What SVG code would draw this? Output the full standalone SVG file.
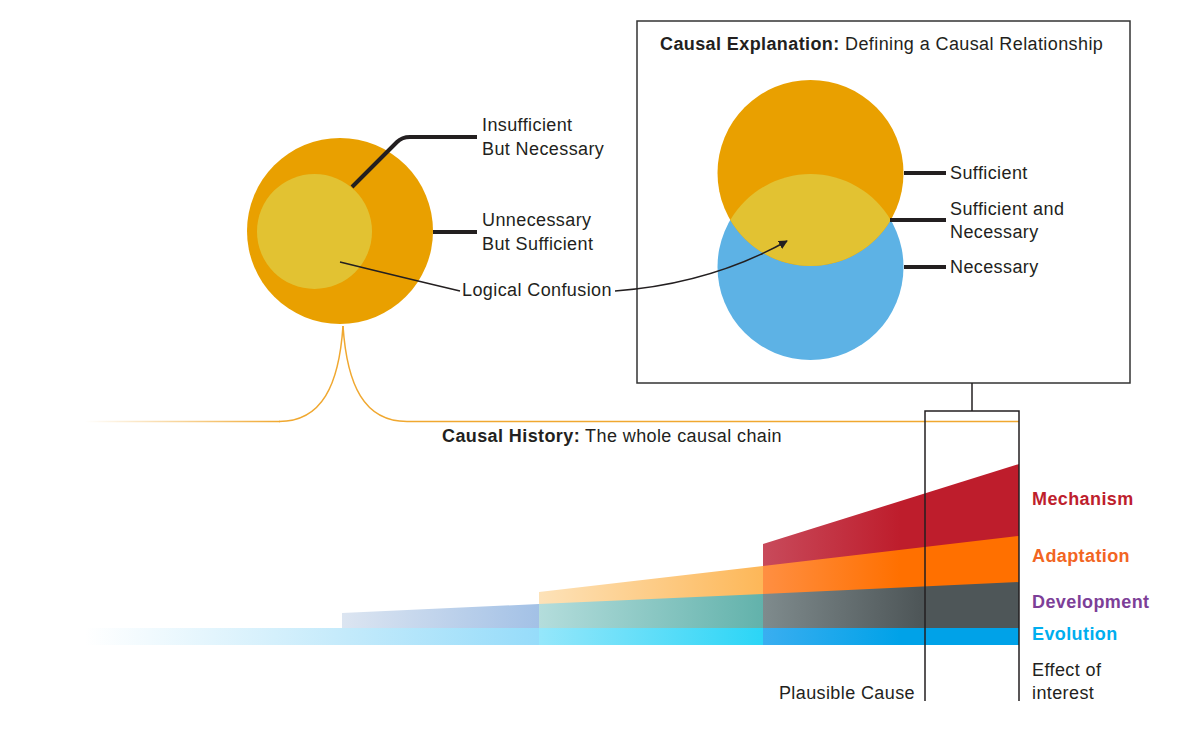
<svg xmlns="http://www.w3.org/2000/svg" width="1200" height="735" viewBox="0 0 1200 735">
<style>
.t{font-family:"Liberation Sans",Arial,sans-serif;font-size:18px;letter-spacing:0.4px;fill:#231f20}
.b{font-weight:bold}
.lead{stroke:#231f20;stroke-width:4;fill:none}
.thin{stroke:#231f20;stroke-width:1.5;fill:none}
.lbl{font-family:"Liberation Sans",Arial,sans-serif;font-size:18px;letter-spacing:0.4px;font-weight:bold}
</style>
<defs>
<marker id="ah" viewBox="0 0 10 10" refX="9" refY="5" markerWidth="9" markerHeight="9" orient="auto" markerUnits="userSpaceOnUse">
<path d="M0,0 L10,5 L0,10 Z" fill="#231f20"/>
</marker>
<linearGradient id="gOrLine" gradientUnits="userSpaceOnUse" x1="85" y1="0" x2="280" y2="0">
<stop offset="0" stop-color="#f0a830" stop-opacity="0"/>
<stop offset="1" stop-color="#f0a830"/>
</linearGradient>
<linearGradient id="gEvoA" gradientUnits="userSpaceOnUse" x1="85" y1="0" x2="539" y2="0">
<stop offset="0" stop-color="#c9ecfb" stop-opacity="0"/>
<stop offset="0.55" stop-color="#c6ebfb"/>
<stop offset="1" stop-color="#96dcfa"/>
</linearGradient>
<linearGradient id="gEvoC" gradientUnits="userSpaceOnUse" x1="539" y1="0" x2="763" y2="0">
<stop offset="0" stop-color="#95e7fb"/>
<stop offset="1" stop-color="#2bd5f6"/>
</linearGradient>
<linearGradient id="gEvoD" gradientUnits="userSpaceOnUse" x1="763" y1="0" x2="900" y2="0">
<stop offset="0" stop-color="#3aaef0"/>
<stop offset="1" stop-color="#00a2e8"/>
</linearGradient>
<linearGradient id="gDevB" gradientUnits="userSpaceOnUse" x1="342" y1="0" x2="539" y2="0">
<stop offset="0" stop-color="#dce5f1"/>
<stop offset="1" stop-color="#a3c1e6"/>
</linearGradient>
<linearGradient id="gDevC" gradientUnits="userSpaceOnUse" x1="539" y1="0" x2="763" y2="0">
<stop offset="0" stop-color="#b4dddc"/>
<stop offset="1" stop-color="#62b2ab"/>
</linearGradient>
<linearGradient id="gDevD" gradientUnits="userSpaceOnUse" x1="763" y1="0" x2="920" y2="0">
<stop offset="0" stop-color="#7f8b8d"/>
<stop offset="1" stop-color="#4e5658"/>
</linearGradient>
<linearGradient id="gAdaC" gradientUnits="userSpaceOnUse" x1="539" y1="0" x2="763" y2="0">
<stop offset="0" stop-color="#fde2b8"/>
<stop offset="1" stop-color="#fdb758"/>
</linearGradient>
<linearGradient id="gAdaD" gradientUnits="userSpaceOnUse" x1="763" y1="0" x2="900" y2="0">
<stop offset="0" stop-color="#ff8f42"/>
<stop offset="1" stop-color="#ff7000"/>
</linearGradient>
<linearGradient id="gMecD" gradientUnits="userSpaceOnUse" x1="763" y1="0" x2="900" y2="0">
<stop offset="0" stop-color="#c84a5b"/>
<stop offset="1" stop-color="#be1d2c"/>
</linearGradient>
</defs>

<rect width="1200" height="735" fill="#ffffff"/>

<!-- Causal history orange bracket -->
<g id="history-bracket" fill="none" stroke-width="1.5">
<path d="M85,421.5 H280" stroke="url(#gOrLine)"/>
<path d="M279,421.5 C322,421.5 339,385 343,326" stroke="#f0a830"/>
<path d="M343,326 C347,385 364,421.5 407,421.5 H1019" stroke="#f0a830"/>
</g>

<!-- Left node: nested circles -->
<g id="left-circles">
<circle cx="340" cy="231" r="93" fill="#e9a000"/>
<circle cx="314.5" cy="231.5" r="57.5" fill="#e2c232"/>
</g>

<!-- Right box: causal explanation -->
<g id="explanation-box">
<rect x="637" y="21" width="493" height="362" fill="#ffffff" stroke="#333333" stroke-width="1.5"/>
<text class="t" x="660" y="50"><tspan class="b">Causal Explanation:</tspan> Defining a Causal Relationship</text>
</g>

<g id="venn">
<circle cx="810.5" cy="267" r="93" fill="#5db2e5"/>
<circle cx="810.5" cy="173" r="93" fill="#e9a000"/>
<path d="M730.3,220 A93,93 0 0 1 890.7,220 A93,93 0 0 1 730.3,220 Z" fill="#e2c232"/>
</g>

<!-- Bars -->
<g id="bar-mechanism">
<polygon points="763,544 1019,464 1019,645 763,645" fill="url(#gMecD)"/>
</g>
<g id="bar-adaptation">
<polygon points="539,592 763,566 763,645 539,645" fill="url(#gAdaC)"/>
<polygon points="763,566 1019,536 1019,645 763,645" fill="url(#gAdaD)"/>
</g>
<g id="bar-development">
<polygon points="342,613 539,604 539,645 342,645" fill="url(#gDevB)"/>
<polygon points="539,604 763,594 763,645 539,645" fill="url(#gDevC)"/>
<polygon points="763,594 1019,582 1019,645 763,645" fill="url(#gDevD)"/>
</g>
<g id="bar-evolution">
<rect x="85" y="628" width="454" height="17" fill="url(#gEvoA)"/>
<rect x="539" y="628" width="224" height="17" fill="url(#gEvoC)"/>
<rect x="763" y="628" width="256" height="17" fill="url(#gEvoD)"/>
</g>

<!-- Connectors -->
<g id="connectors">
<path class="lead" d="M352,187 L397,142 Q402,137 410,137 H477"/>
<path class="lead" d="M433,232 H477"/>
<path class="lead" d="M904,173 H946"/>
<path class="lead" d="M890,220 H946"/>
<path class="lead" d="M904,267 H946"/>
<path class="thin" d="M340,262 Q405,278 460,291"/>
<path class="thin" d="M615,291 Q710,284 787,241" marker-end="url(#ah)"/>
<path class="thin" d="M972,383 V411"/>
<path class="thin" d="M925,701 V411 H1019 V701"/>
</g>

<!-- Labels -->
<g id="left-labels">
<text class="t" x="482" y="131">Insufficient</text>
<text class="t" x="482" y="155">But Necessary</text>
<text class="t" x="482" y="226">Unnecessary</text>
<text class="t" x="482" y="250">But Sufficient</text>
<text class="t" x="462" y="296">Logical Confusion</text>
</g>
<g id="venn-labels">
<text class="t" x="950" y="179">Sufficient</text>
<text class="t" x="950" y="215">Sufficient and</text>
<text class="t" x="950" y="238">Necessary</text>
<text class="t" x="950" y="273">Necessary</text>
</g>
<g id="history-label">
<text class="t" x="442" y="442"><tspan class="b">Causal History:</tspan> The whole causal chain</text>
</g>
<g id="bar-labels">
<text class="lbl" x="1032" y="505" fill="#be1e2d">Mechanism</text>
<text class="lbl" x="1032" y="562" fill="#f26522">Adaptation</text>
<text class="lbl" x="1032" y="608" fill="#7d3f98">Development</text>
<text class="lbl" x="1032" y="640" fill="#00aeef">Evolution</text>
<text class="t" x="1032" y="676">Effect of</text>
<text class="t" x="1032" y="699">interest</text>
<text class="t" x="915" y="699" text-anchor="end">Plausible Cause</text>
</g>
</svg>
